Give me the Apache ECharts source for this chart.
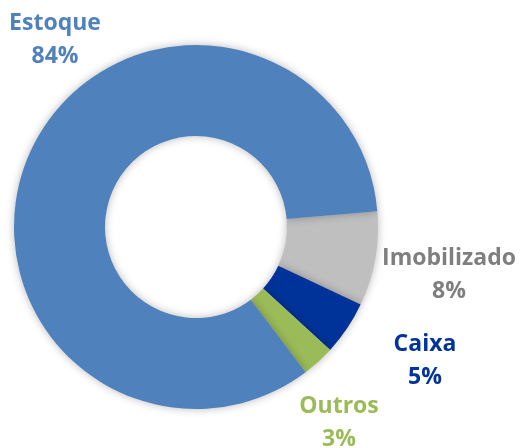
<!DOCTYPE html>
<html>
<head>
<meta charset="utf-8">
<script src="https://cdn.jsdelivr.net/npm/echarts@6/dist/echarts.min.js"></script>
<style>
  html, body { margin: 0; padding: 0; background: #fff; }
  #box { width: 520px; height: 448px; }
</style>
</head>
<body>
<div id="box"></div>
<script>
// data, in drawing order (clockwise from the right)
const categories = ['Imobilizado', 'Caixa', 'Outros', 'Estoque'];
const values = [8.4, 4.8, 2.9, 83.9];
const sliceColors = ['#BFBFBF', '#003399', '#9BBB59', '#4F81BD'];
const labelColors = ['#7F7F7F', '#003399', '#9BBB59', '#4F81BD'];

// where each label sits (centre of the two-line text)
const labelPos = [[449, 275], [425, 361], [339, 423], [55, 40]];

let myChart = echarts.init(document.getElementById('box'));

let seriesData = [];
for (let i = 0; i < categories.length; i++) {
    seriesData.push({
        name: categories[i],
        value: values[i],
        itemStyle: { color: sliceColors[i] },
        label: { color: labelColors[i] }
    });
}

let option = {
    animation: false,
    series: [
        {
            type: 'pie',
            center: [196, 227],
            radius: [91, 182],
            startAngle: 5,
            clockwise: true,
            percentPrecision: 0,
            avoidLabelOverlap: false,
            data: seriesData,
            itemStyle: {
                shadowBlur: 8,
                shadowColor: 'rgba(0, 0, 0, 0.28)'
            },
            label: {
                show: true,
                position: 'outside',
                formatter: '{b}\n{d}%',
                fontFamily: 'Open Sans',
                fontWeight: 'bold',
                fontSize: 23,
                lineHeight: 33,
                overflow: 'none',
                width: 200
            },
            labelLine: { show: false },
            labelLayout: function (params) {
                let p = labelPos[params.dataIndex];
                return {
                    x: p[0],
                    y: p[1],
                    align: 'center',
                    verticalAlign: 'middle',
                    hideOverlap: false
                };
            }
        }
    ]
};
myChart.setOption(option);
</script>
</body>
</html>
